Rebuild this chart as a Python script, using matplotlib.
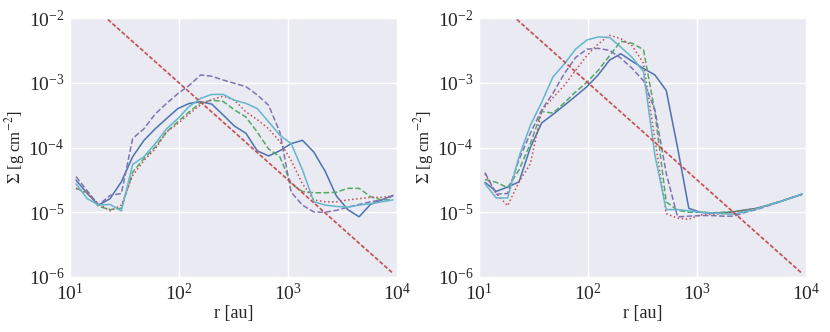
import numpy as np
import matplotlib
matplotlib.use("Agg")
import matplotlib.pyplot as plt
import seaborn as sns

# radial grid (au)
r = [11.35, 14.4, 18.3, 23.3, 29.6, 37.6, 47.7, 60.6, 76.9, 97.7, 124, 158,
     200, 255, 323, 411, 522, 663, 841, 1069, 1358, 1725, 2191, 2784, 3535,
     4491, 5705, 7246, 9183]

# left panel surface densities (g cm^-2)
left_blue = [3.13e-5, 1.95e-5, 1.29e-5, 1.62e-5, 2.96e-5, 7.2e-5, 1.29e-4, 1.95e-4,
             2.8e-4, 4.0e-4, 4.79e-4, 5.08e-4, 4.68e-4, 3.16e-4, 2.14e-4, 1.66e-4,
             8.9e-5, 7.4e-5, 8.9e-5, 1.15e-4, 1.29e-4, 8.5e-5, 4.3e-5, 1.78e-5,
             1.1e-5, 8.5e-6, 1.32e-5, 1.55e-5, 1.82e-5]
left_green = [2.34e-5, 2.04e-5, 1.23e-5, 1.1e-5, 1.15e-5, 4.17e-5, 6.76e-5, 1.02e-4,
              1.74e-4, 2.51e-4, 3.55e-4, 4.9e-4, 5.37e-4, 5.13e-4, 3.8e-4, 2.95e-4,
              1.74e-4, 9.5e-5, 7.2e-5, 2.75e-5, 2.09e-5, 2.0e-5, 2.0e-5, 2.04e-5,
              2.34e-5, 2.34e-5, 1.74e-5, 1.55e-5, 1.55e-5]
left_red = [2.34e-5, 1.95e-5, 1.35e-5, 1.05e-5, 1.29e-5, 3.7e-5, 6.3e-5, 9.5e-5,
            1.74e-4, 2.34e-4, 3.3e-4, 4.57e-4, 5.5e-4, 6.2e-4, 5.37e-4, 3.55e-4,
            2.7e-4, 1.95e-4, 1.23e-4, 6.3e-5, 2.75e-5, 1.55e-5, 1.45e-5, 1.45e-5,
            1.55e-5, 1.62e-5, 1.7e-5, 1.7e-5, 1.78e-5]
left_purple = [3.55e-5, 2.14e-5, 1.29e-5, 1.82e-5, 1.95e-5, 1.38e-4, 1.95e-4, 3.3e-4,
               4.8e-4, 6.8e-4, 9.1e-4, 1.32e-3, 1.26e-3, 1.1e-3, 9.8e-4, 8.7e-4,
               6.5e-4, 4.5e-4, 1.74e-4, 2.04e-5, 1.29e-5, 1.01e-5, 1.0e-5, 1.07e-5,
               1.2e-5, 1.32e-5, 1.45e-5, 1.55e-5, 1.78e-5]
left_cyan = [2.75e-5, 1.62e-5, 1.29e-5, 1.32e-5, 1.05e-5, 5.5e-5, 7.2e-5, 1.15e-4,
             1.95e-4, 2.8e-4, 4.3e-4, 5.75e-4, 6.6e-4, 6.6e-4, 5.37e-4, 4.8e-4,
             4.0e-4, 2.5e-4, 1.55e-4, 1.15e-4, 4.5e-5, 1.45e-5, 1.29e-5, 1.23e-5,
             1.2e-5, 1.29e-5, 1.35e-5, 1.45e-5, 1.55e-5]

# right panel surface densities (g cm^-2)
right_blue = [2.9e-5, 2.1e-5, 2.45e-5, 2.95e-5, 1.0e-4, 2.4e-4, 3.24e-4, 4.47e-4,
              6.2e-4, 8.7e-4, 1.32e-3, 2.24e-3, 2.8e-3, 2.14e-3, 1.66e-3, 1.32e-3,
              7.6e-4, 1.0e-4, 1.15e-5, 1.0e-5, 9.7e-6, 9.8e-6, 1.02e-5, 1.09e-5,
              1.15e-5, 1.29e-5, 1.45e-5, 1.66e-5, 1.9e-5]
right_green = [3.2e-5, 2.9e-5, 2.4e-5, 4.5e-5, 1.15e-4, 3.6e-4, 3.4e-4, 4.9e-4,
               7.2e-4, 1.02e-3, 1.55e-3, 2.63e-3, 4.37e-3, 4.07e-3, 3.24e-3, 3.5e-4,
               1.45e-5, 1.07e-5, 1.0e-5, 1.0e-5, 9.8e-6, 1.0e-5, 1.02e-5, 1.07e-5,
               1.15e-5, 1.29e-5, 1.45e-5, 1.66e-5, 1.9e-5]
right_red = [3.9e-5, 1.95e-5, 1.26e-5, 2.95e-5, 5.6e-5, 3.7e-4, 5.9e-4, 9.1e-4,
             1.55e-3, 2.63e-3, 3.98e-3, 5.4e-3, 4.8e-3, 3.7e-3, 2.0e-3, 1.32e-4,
             9.5e-6, 8.1e-6, 7.8e-6, 9.1e-6, 9.3e-6, 9.5e-6, 1.0e-5, 1.07e-5,
             1.15e-5, 1.29e-5, 1.45e-5, 1.66e-5, 1.86e-5]
right_purple = [4.1e-5, 1.9e-5, 1.95e-5, 6.5e-5, 1.66e-4, 3.8e-4, 6.9e-4, 1.38e-3,
                2.45e-3, 3.3e-3, 3.4e-3, 3.16e-3, 2.4e-3, 1.66e-3, 1.07e-3, 3.8e-4,
                4.0e-5, 8.5e-6, 8.7e-6, 8.9e-6, 8.9e-6, 8.7e-6, 8.7e-6, 1.0e-5,
                1.1e-5, 1.26e-5, 1.45e-5, 1.66e-5, 1.9e-5]
right_cyan = [2.75e-5, 1.66e-5, 1.66e-5, 7.2e-5, 2.2e-4, 5.0e-4, 1.23e-3, 1.95e-3,
              3.3e-3, 4.57e-3, 5.1e-3, 5.0e-3, 3.55e-3, 2.45e-3, 1.48e-3, 7.6e-5,
              1.1e-5, 1.1e-5, 1.05e-5, 1.0e-5, 9.8e-6, 9.5e-6, 9.3e-6, 1.02e-5,
              1.12e-5, 1.29e-5, 1.45e-5, 1.66e-5, 1.9e-5]

# power-law reference line
r_ref = [11.35, 9183]
sigma_ref = [2.6e-2, 1.14e-6]

sns.set_style("darkgrid")
plt.rcParams['font.family'] = ['Liberation Serif', 'DejaVu Serif']
plt.rcParams['mathtext.fontset'] = 'stix'

deep = ["#4C72B0", "#55A868", "#C44E52", "#8172B2", "#CCB974", "#64B5CD"]

fig = plt.figure(figsize=(8.3, 3.32), dpi=100)
ax1 = fig.add_axes([70 / 830, 55 / 332, 327 / 830, 259 / 332])
ax2 = fig.add_axes([479 / 830, 55 / 332, 327 / 830, 259 / 332])

panels = [
    (ax1, [left_blue, left_green, left_red, left_purple, left_cyan]),
    (ax2, [right_blue, right_green, right_red, right_purple, right_cyan]),
]
styles = [("-", deep[0]), ("--", deep[1]), (":", deep[2]), ("--", deep[3]), ("-", deep[5])]

for ax, series in panels:
    for vals, (ls, c) in zip(series, styles):
        ax.plot(r, vals, ls=ls, color=c, lw=1.1)
    ax.plot(r_ref, sigma_ref, ls="--", color=deep[2], lw=1.2, dashes=(2.5, 1.2))
    ax.set_xscale("log")
    ax.set_yscale("log")
    ax.set_xlim(10, 1e4)
    ax.set_ylim(1e-6, 1e-2)
    ax.set_xlabel("r [au]", fontsize=13, labelpad=1)
    ax.set_ylabel(r"$\Sigma$ [g cm$^{-2}$]", fontsize=12, labelpad=1)
    ax.tick_params(labelsize=14, length=0, pad=4)
    ax.minorticks_off()
    ax.grid(True, color="white", lw=1)

fig.savefig("out.png", dpi=100)
